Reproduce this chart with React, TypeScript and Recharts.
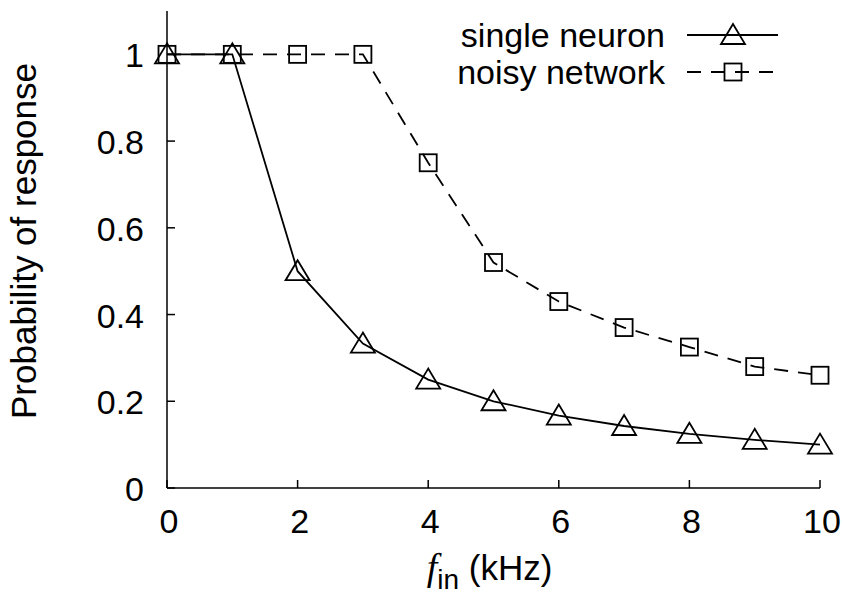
import { Legend, Line, LineChart, XAxis, YAxis } from "recharts";

const frequencies = [0, 1, 2, 3, 4, 5, 6, 7, 8, 9, 10];
const singleNeuron = [1, 1, 0.5, 0.333, 0.25, 0.2, 0.167, 0.143, 0.125, 0.111, 0.1];
const noisyNetwork = [1, 1, 1, 1, 0.75, 0.52, 0.43, 0.37, 0.325, 0.28, 0.26];
const xTicks = [0, 2, 4, 6, 8, 10];
const yTicks = [0, 0.2, 0.4, 0.6, 0.8, 1];

const data = frequencies.map((f, i) => ({
  f,
  single: singleNeuron[i],
  noisy: noisyNetwork[i],
}));

const FONT = "'Liberation Sans', Arial, Helvetica, sans-serif";
const TICK_LEN = 8;

function Triangle({ cx, cy }: any) {
  if (cx == null || cy == null) return null;
  return (
    <polygon
      points={`${cx},${cy - 11} ${cx - 12},${cy + 9} ${cx + 12},${cy + 9}`}
      fill="none"
      stroke="#000"
      strokeWidth={1.8}
    />
  );
}

function Square({ cx, cy }: any) {
  if (cx == null || cy == null) return null;
  return (
    <rect x={cx - 8.5} y={cy - 8.5} width={17} height={17} fill="none" stroke="#000" strokeWidth={1.8} />
  );
}

const series = [
  { key: "single", name: "single neuron", dash: undefined as string | undefined, marker: "tri" },
  { key: "noisy", name: "noisy network", dash: "14 10", marker: "sq" },
];

function LegendBox() {
  return (
    <svg width={360} height={90} style={{ display: "block" }}>
      {series.map((s, i) => {
        const y = 25 + i * 37;
        return (
          <g key={s.key}>
            <text x={225} y={y + 12} textAnchor="end" fontFamily={FONT} fontSize={34}>
              {s.name}
            </text>
            <line x1={247} x2={338} y1={y} y2={y} stroke="#000" strokeWidth={1.8} strokeDasharray={s.dash} />
            {s.marker === "tri" ? <Triangle cx={293} cy={y} /> : <Square cx={293} cy={y} />}
          </g>
        );
      })}
    </svg>
  );
}

function BottomTick({ x, y, payload }: any) {
  return (
    <g>
      <line x1={x} x2={x} y1={y} y2={y - TICK_LEN} stroke="#000" strokeWidth={1.5} />
      <text x={x + 2} y={y + 45} textAnchor="middle" fontFamily={FONT} fontSize={34}>
        {String(payload.value)}
      </text>
    </g>
  );
}

function LeftTick({ x, y, payload }: any) {
  return (
    <g>
      <line x1={x} x2={x + TICK_LEN} y1={y} y2={y} stroke="#000" strokeWidth={1.5} />
      <text x={x - 23} y={y + 13} textAnchor="end" fontFamily={FONT} fontSize={34}>
        {String(payload.value)}
      </text>
    </g>
  );
}

function TopTick({ x, y }: any) {
  return <line x1={x} x2={x} y1={y} y2={y + TICK_LEN} stroke="#000" strokeWidth={1.5} />;
}

function RightTick({ x, y }: any) {
  return <line x1={x} x2={x - TICK_LEN} y1={y} y2={y} stroke="#000" strokeWidth={1.5} />;
}

export default function App() {
  return (
    <div style={{ position: "absolute", left: 0, top: 0, background: "#fff" }}>
      <LineChart width={844} height={595} data={data} margin={{ top: 11, right: 24, bottom: 0, left: 0 }}>
        <XAxis
          xAxisId="bottom"
          dataKey="f"
          type="number"
          domain={[0, 10]}
          ticks={xTicks}
          interval={0}
          height={107}
          tickSize={0}
          tickMargin={0}
          tickLine={false}
          axisLine={{ stroke: "#000", strokeWidth: 1.5 }}
          tick={<BottomTick />}
          label={(props: any) => {
            const vb = props.viewBox || { x: 167, y: 488, width: 653 };
            return (
              <text x={vb.x + vb.width / 2 - 4} y={vb.y + 92} textAnchor="middle" fontFamily={FONT} fontSize={35}>
                <tspan fontFamily="'Liberation Serif', 'DejaVu Serif', serif" fontStyle="italic" fontSize={38}>
                  f
                </tspan>
                <tspan fontSize={28} dy={9}>
                  in
                </tspan>
                <tspan dy={-9}> (kHz)</tspan>
              </text>
            );
          }}
        />
        <XAxis
          xAxisId="top"
          dataKey="f"
          type="number"
          orientation="top"
          domain={[0, 10]}
          ticks={xTicks}
          interval={0}
          height={0}
          tickSize={0}
          tickMargin={0}
          tickLine={false}
          axisLine={{ stroke: "#000", strokeWidth: 1.5 }}
          tick={<TopTick />}
        />
        <YAxis
          yAxisId="left"
          type="number"
          domain={[0, 1.1]}
          ticks={yTicks}
          interval={0}
          width={167}
          tickSize={0}
          tickMargin={0}
          tickLine={false}
          axisLine={{ stroke: "#000", strokeWidth: 1.5 }}
          tick={<LeftTick />}
          label={() => (
            <text
              x={36}
              y={241}
              transform="rotate(-90 36 241)"
              textAnchor="middle"
              fontFamily={FONT}
              fontSize={35}
            >
              Probability of response
            </text>
          )}
        />
        <YAxis
          yAxisId="right"
          type="number"
          orientation="right"
          domain={[0, 1.1]}
          ticks={yTicks}
          interval={0}
          width={0}
          tickSize={0}
          tickMargin={0}
          tickLine={false}
          axisLine={{ stroke: "#000", strokeWidth: 1.5 }}
          tick={<RightTick />}
        />
        <Legend
          layout="vertical"
          align="center"
          verticalAlign="middle"
          content={() => <LegendBox />}
          wrapperStyle={{ position: "absolute", left: 440, top: 10, width: 360 }}
        />
        <Line
          xAxisId="bottom"
          yAxisId="left"
          dataKey="single"
          name="single neuron"
          type="linear"
          stroke="#000"
          strokeWidth={1.8}
          dot={<Triangle />}
          activeDot={false}
          isAnimationActive={false}
        />
        <Line
          xAxisId="bottom"
          yAxisId="left"
          dataKey="noisy"
          name="noisy network"
          type="linear"
          stroke="#000"
          strokeWidth={1.8}
          strokeDasharray="14 10"
          dot={<Square />}
          activeDot={false}
          isAnimationActive={false}
        />
      </LineChart>
    </div>
  );
}
